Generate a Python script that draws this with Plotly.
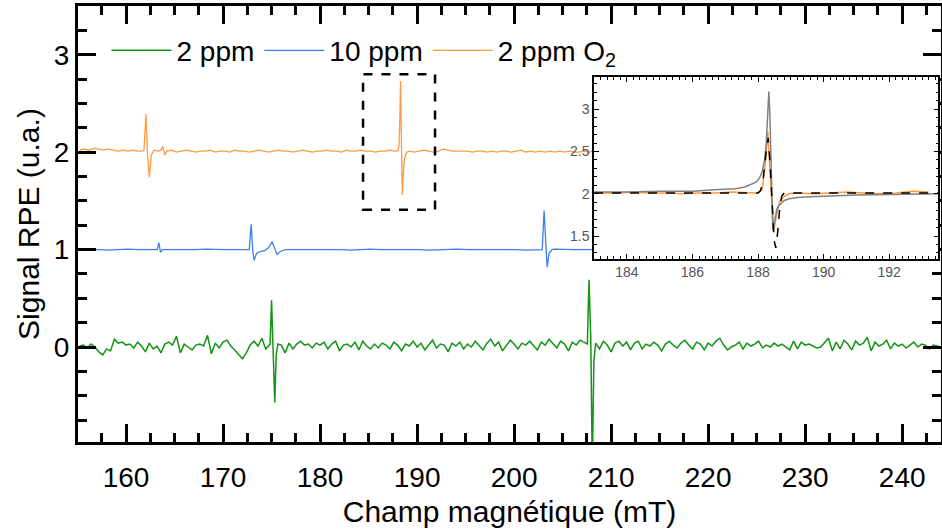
import numpy as np
import pandas as pd
import plotly.graph_objects as go

# baseline noise (deviation from the offset)
green_start, green_step = 155.2, 0.4
green_noise = [
    0.01, 0.02, -0.01, 0.03, 0.00, -0.05, -0.08, -0.02, -0.04, 0.08, 0.04, 0.05, 0.02, 0.03, -0.01, 0.05, 0.01, -0.05, 0.04, -0.02,
    0.01, -0.06, 0.03, 0.05, 0.02, 0.11, -0.06, 0.03, 0.00, -0.03, 0.02, 0.03, 0.01, 0.12, -0.07, 0.04, -0.01, 0.05, 0.07, 0.01,
    -0.03, -0.08, -0.12, -0.06, 0.02, 0.06, 0.01, 0.09, -0.02, -0.05, 0.04, -0.03, 0.02, -0.06, 0.04, -0.02, 0.03, 0.06, 0.02, 0.03,
    -0.01, 0.04, 0.02, 0.05, -0.02, 0.03, 0.06, -0.04, 0.02, 0.03, 0.00, 0.05, -0.03, 0.06, 0.01, -0.02, 0.03, -0.01, 0.04, 0.02,
    -0.02, 0.05, 0.02, -0.04, 0.03, 0.01, 0.06, 0.00, 0.04, -0.03, 0.02, 0.07, -0.01, 0.03, 0.02, -0.05, 0.04, 0.01, 0.05, -0.02,
    0.03, 0.00, 0.06, 0.02, -0.03, 0.04, 0.08, 0.01, 0.05, -0.04, 0.02, 0.07, 0.03, -0.02, 0.04, 0.02, 0.06, 0.01, -0.03, 0.05,
    0.02, 0.08, 0.04, -0.01, 0.06, 0.03, -0.04, 0.05, 0.02, 0.07, 0.05, 0.00, 0.03, 0.08, -0.02, 0.06, 0.02, -0.05, 0.04, 0.06,
    0.01, 0.05, -0.03, 0.04, 0.06, -0.02, 0.03, 0.01, 0.05, 0.02, -0.04, 0.03, 0.06, 0.02, -0.01, 0.04, 0.07, 0.02, -0.02, 0.05,
    0.03, -0.03, 0.04, 0.01, 0.06, 0.09, 0.02, -0.03, 0.00, 0.02, 0.05, -0.02, 0.04, 0.01, 0.03, 0.06, -0.01, 0.02, 0.00, 0.04,
    0.01, 0.03, 0.00, -0.03, 0.06, -0.02, 0.05, 0.02, 0.03, 0.01, -0.01, 0.00, 0.04, 0.09, -0.04, 0.05, -0.02, 0.07, 0.03, -0.03,
    0.06, 0.02, 0.04, 0.10, -0.04, 0.05, 0.01, 0.03, 0.07, -0.02, 0.04, 0.01, 0.03, -0.01, 0.02, 0.05, 0.00, 0.03, 0.02, -0.02,
    0.02, 0.01, 0.00, 0.01,
]
green_peaks = [
    ([174.85, 175.0, 175.15, 175.33, 175.48, 175.65], [0.03, 0.48, 0.0, -0.57, -0.08, 0.03]),
    ([207.55, 207.72, 207.9, 208.06, 208.22, 208.4], [0.03, 0.69, 0.1, -1.25, -0.15, 0.04]),
]

blue_start, blue_step = 155.2, 1.0
blue_noise = [
    0.00, 0.005, 0.00, -0.005, 0.00, 0.005, 0.00, 0.00, 0.005, 0.00, 0.00, -0.005, 0.00, 0.005, 0.00, 0.00, 0.00, 0.005, 0.00, 0.00,
    0.00, -0.005, 0.00, 0.00, 0.005, 0.00, 0.00, 0.00, -0.005, 0.00, 0.005, 0.00, 0.00, 0.00, 0.005, 0.00, -0.005, 0.00, 0.00, 0.005,
    0.00, 0.00, 0.00, 0.005, 0.00, 0.00, -0.005, 0.00, 0.00, 0.005, 0.00, 0.00, 0.00, 0.00, 0.005, 0.00, 0.00, -0.005, 0.00, 0.00,
    0.005, 0.00, 0.00, 0.00, 0.00, 0.005, 0.00, 0.00, 0.00, -0.005, 0.00, 0.00, 0.005, 0.00, 0.00, 0.00, 0.00, 0.005, 0.00, 0.00,
    0.00, 0.00, -0.005, 0.00, 0.00, 0.005, 0.00, 0.00, 0.00,
]
blue_peaks = [
    ([163.2, 163.4, 163.55, 163.75], [1.0, 1.07, 0.97, 1.0]),
    ([172.7, 172.9, 173.05, 173.2, 173.45, 173.8, 174.3, 174.7, 175.05, 175.3, 175.57, 175.9, 176.4],
     [1.0, 1.26, 1.0, 0.89, 0.96, 0.98, 0.99, 1.02, 1.08, 1.02, 0.95, 0.98, 1.0]),
    ([202.9, 203.09, 203.25, 203.4, 203.6, 203.9], [1.0, 1.40, 1.05, 0.82, 0.96, 1.0]),
]

orange_start, orange_step = 155.2, 0.5
orange_noise = [
    0.02, 0.03, 0.02, 0.04, 0.03, 0.02, 0.03, 0.02, 0.01, 0.02, 0.01, 0.02, 0.01, 0.01, 0.02, 0.01, 0.02, 0.01, 0.01, 0.02,
    0.00, 0.01, 0.02, 0.01, 0.00, 0.01, 0.01, 0.02, 0.00, 0.01, 0.01, 0.00, 0.02, 0.01, 0.01, 0.00, 0.01, 0.02, 0.01, 0.00,
    0.01, 0.02, 0.01, 0.01, 0.00, 0.01, 0.02, 0.01, 0.00, 0.01, 0.01, 0.02, 0.01, 0.01, 0.00, 0.02, 0.01, 0.01, 0.02, 0.01,
    0.01, 0.00, 0.01, 0.01, 0.02, 0.01, 0.00, 0.01, 0.01, 0.00, 0.01, 0.02, 0.01, 0.00, 0.01, 0.03, 0.02, 0.01, 0.01, 0.01,
    0.01, 0.00, 0.01, 0.01, 0.00, 0.01, 0.00, 0.01, 0.01, 0.00, 0.01, 0.02, 0.00, 0.01, 0.00, 0.01, 0.00, 0.01, 0.00, 0.01,
    0.00, 0.01, 0.00, 0.00, 0.01, 0.00, 0.01, 0.00, 0.01, 0.01, 0.00, 0.00, 0.01, 0.00, 0.01, 0.00, 0.00, 0.01, 0.00, 0.01,
    0.01, 0.00, 0.01, 0.00, 0.00, 0.01, 0.00, 0.01, 0.00, 0.01, 0.01, 0.00, 0.00, 0.01, 0.00, 0.01, 0.00, 0.00, 0.01, 0.00,
    0.00, 0.01, 0.00, 0.01, 0.01, 0.00, 0.00, 0.01, 0.00, 0.01, 0.00, 0.01, 0.00, 0.00, 0.01, 0.00, 0.01, 0.00, 0.01, 0.00,
    0.01, 0.00, 0.00, 0.01, 0.00, 0.01, 0.00, 0.00, 0.01, 0.00, 0.00, 0.01, 0.00, 0.01, 0.00, 0.00, 0.01, 0.00, 0.00, 0.01,
]
orange_peaks = [
    ([161.85, 162.06, 162.2, 162.4, 162.6, 162.9, 163.3, 163.6, 163.78, 163.99, 164.2],
     [2.02, 2.39, 2.0, 1.74, 1.97, 2.02, 2.01, 2.02, 2.06, 1.97, 2.01]),
    ([187.8, 187.95, 188.05, 188.13, 188.21, 188.3, 188.37, 188.42, 188.48, 188.55, 188.65, 188.8, 188.95, 189.2],
     [2.01, 2.01, 2.02, 2.06, 2.3, 2.73, 2.2, 1.9, 1.56, 1.72, 1.9, 1.97, 2.0, 2.01]),
]

# fits shown in the inset
lor_x = [183.0, 184.0, 185.0, 186.0, 186.8, 187.3, 187.6, 187.8, 187.95, 188.05, 188.13, 188.2, 188.25, 188.29, 188.33,
         188.36, 188.39, 188.42, 188.45, 188.48, 188.52, 188.57, 188.63, 188.7, 188.8, 188.95, 189.2, 189.6, 190.2,
         191.0, 192.0, 193.0, 193.5]
lor_y = [2.02, 2.02, 2.03, 2.03, 2.05, 2.06, 2.08, 2.11, 2.14, 2.19, 2.27, 2.4, 2.6, 2.9, 3.21,
         2.95, 2.4, 1.9, 1.57, 1.62, 1.73, 1.81, 1.86, 1.89, 1.92, 1.94, 1.955, 1.965, 1.975,
         1.985, 1.99, 1.995, 2.0]
gau_x = [183.0, 188.0, 188.08, 188.15, 188.23, 188.31, 188.37, 188.43, 188.49, 188.54, 188.6, 188.66, 188.72, 188.8, 188.9, 193.5]
gau_y = [2.01, 2.01, 2.04, 2.16, 2.44, 2.66, 2.35, 1.85, 1.45, 1.36, 1.55, 1.82, 1.97, 2.01, 2.01, 2.01]


def build(start, step, noise, offset, peaks):
    x = np.round(start + step * np.arange(len(noise)), 3)
    s = pd.Series(np.array(noise) + offset, index=x)
    for px, py in peaks:
        s = s[(s.index < min(px) - 0.05) | (s.index > max(px) + 0.05)]
        s = pd.concat([s, pd.Series(py, index=px)])
    return s.sort_index()


green = build(green_start, green_step, green_noise, 0.0, green_peaks)
blue = build(blue_start, blue_step, blue_noise, 1.0, blue_peaks)
orange = build(orange_start, orange_step, orange_noise, 2.0, orange_peaks)

c_green = '#149414'
c_blue = '#3d7ff2'
c_orange = '#ff9a40'
font = 'Liberation Sans, Arial, sans-serif'

fig = go.Figure()
fig.add_trace(go.Scatter(x=green.index, y=green.values, mode='lines', name='2 ppm',
                         line=dict(color=c_green, width=1.5)))
fig.add_trace(go.Scatter(x=blue.index, y=blue.values, mode='lines', name='10 ppm',
                         line=dict(color=c_blue, width=1.3)))
fig.add_trace(go.Scatter(x=orange.index, y=orange.values, mode='lines', name='2 ppm O<sub>2</sub>',
                         line=dict(color=c_orange, width=1.3)))

# inset
ins = orange[(orange.index >= 183) & (orange.index <= 193.5)]
fig.add_trace(go.Scatter(x=ins.index, y=ins.values, mode='lines', showlegend=False,
                         line=dict(color=c_orange, width=1.5), xaxis='x2', yaxis='y2'))
fig.add_trace(go.Scatter(x=lor_x, y=lor_y, mode='lines', showlegend=False,
                         line=dict(color='#808080', width=1.5), xaxis='x2', yaxis='y2'))
fig.add_trace(go.Scatter(x=gau_x, y=gau_y, mode='lines', showlegend=False,
                         line=dict(color='black', width=1.5, dash='dash'), xaxis='x2', yaxis='y2'))

fig.add_shape(type='rect', x0=184.43, x1=191.85, y0=1.41, y1=2.80, xref='x', yref='y',
              line=dict(color='black', width=2.5, dash='dash'))

main_ax = dict(showline=True, linewidth=3, linecolor='black', mirror='ticks', ticks='inside',
               tickwidth=3, ticklen=18, tickcolor='black', showgrid=False, zeroline=False,
               automargin=False, tickfont=dict(size=28, color='black', family=font))
fig.update_layout(
    width=942, height=532,
    margin=dict(l=78, r=1, t=6, b=90),
    plot_bgcolor='white', paper_bgcolor='white',
    font=dict(family=font, color='black'),
    xaxis=dict(main_ax, range=[155.05, 244.0], dtick=10, ticklabelstandoff=8,
               minor=dict(dtick=2.5, ticklen=9, tickwidth=3, tickcolor='black', ticks='inside'),
               title=dict(text='Champ magnétique (mT)', font=dict(size=30), standoff=10)),
    yaxis=dict(main_ax, range=[-0.975, 3.5], dtick=1,
               minor=dict(dtick=0.25, ticklen=9, tickwidth=3, tickcolor='black', ticks='inside'),
               title=dict(text='Signal RPE (u.a.)', font=dict(size=30), standoff=6)),
    xaxis2=dict(domain=[0.598, 0.997], anchor='y2', range=[183, 193.5], dtick=2,
                showline=True, linewidth=1.5, linecolor='black', mirror='ticks', ticks='inside',
                ticklen=5, tickwidth=1, tickcolor='black', showgrid=False, zeroline=False,
                automargin=False,
                minor=dict(dtick=0.2, ticklen=3, tickcolor='black', ticks='inside'),
                tickfont=dict(size=14, color='#555555')),
    yaxis2=dict(domain=[0.42, 0.837], anchor='x2', range=[1.23, 3.38], dtick=0.5,
                showline=True, linewidth=1.5, linecolor='black', mirror='ticks', ticks='inside',
                ticklen=5, tickwidth=1, tickcolor='black', showgrid=False, zeroline=False,
                automargin=False,
                minor=dict(dtick=0.1, ticklen=3, tickcolor='black', ticks='inside'),
                tickfont=dict(size=14, color='#555555')),
    legend=dict(orientation='h', x=0.033, y=0.955, xanchor='left', yanchor='top',
                bgcolor='rgba(0,0,0,0)', font=dict(size=28), itemwidth=60),
)

# the page body has a default 8px margin; drop it so the figure sits at the corner
fig.write_html("out.html", config={'displayModeBar': False},
               post_script="document.body.style.margin='0';")
